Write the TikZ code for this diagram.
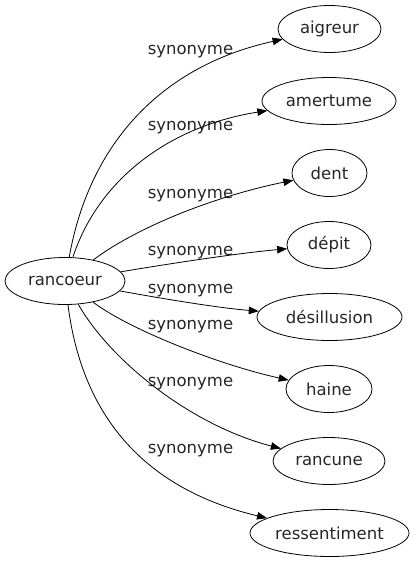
\documentclass[tikz,border=0pt]{standalone}
\usepackage{fontspec}
\setmainfont{DejaVu Sans}
\usetikzlibrary{shapes.geometric,arrows.meta}
\begin{document}
\begin{tikzpicture}[x=1pt,y=-1pt,
  word/.style={draw=black,ellipse,inner sep=0pt,minimum height=47pt,font=\fontsize{16.5}{18}\selectfont,text=black!85,line width=0.8pt},
  lab/.style={anchor=base,inner sep=0pt,font=\fontsize{16.5}{18}\selectfont,text=black!85},
  link/.style={line width=0.8pt,-{Triangle[length=10pt,width=7.5pt]}}]
\useasboundingbox (0,0) rectangle (414,563);
\node[word,minimum width=120pt] (r) at (65,281) {rancoeur};
\node[word,minimum width=103pt] (n1) at (329.5,29) {aigreur};
\node[word,minimum width=134pt] (n2) at (329,101) {amertume};
\node[word,minimum width=75pt] (n3) at (329.5,173) {dent};
\node[word,minimum width=84pt] (n4) at (329,245) {dépit};
\node[word,minimum width=145pt] (n5) at (329.5,317) {désillusion};
\node[word,minimum width=86pt] (n6) at (329,389) {haine};
\node[word,minimum width=112pt] (n7) at (329,461) {rancune};
\node[word,minimum width=159pt] (n8) at (329.5,533) {ressentiment};
\node[lab] (l1) at (190.5,54) {synonyme};
\node[lab] (l2) at (190.5,130) {synonyme};
\node[lab] (l3) at (190.5,198) {synonyme};
\node[lab] (l4) at (190.5,255) {synonyme};
\node[lab] (l5) at (190.5,293) {synonyme};
\node[lab] (l6) at (190.5,329) {synonyme};
\node[lab] (l7) at (190.5,386) {synonyme};
\node[lab] (l8) at (190.5,453) {synonyme};
\draw[link] (r) .. controls (90,140) and (165,65) .. (n1);
\draw[link] (r) .. controls (100,175) and (175,125) .. (n2);
\draw[link] (r) .. controls (140,225) and (220,195) .. (n3);
\draw[link] (r) .. controls (180,262) and (240,253) .. (n4);
\draw[link] (r) .. controls (170,300) and (220,308) .. (n5);
\draw[link] (r) .. controls (130,330) and (220,365) .. (n6);
\draw[link] (r) .. controls (110,360) and (190,425) .. (n7);
\draw[link] (r) .. controls (85,440) and (170,495) .. (n8);
\end{tikzpicture}
\end{document}
